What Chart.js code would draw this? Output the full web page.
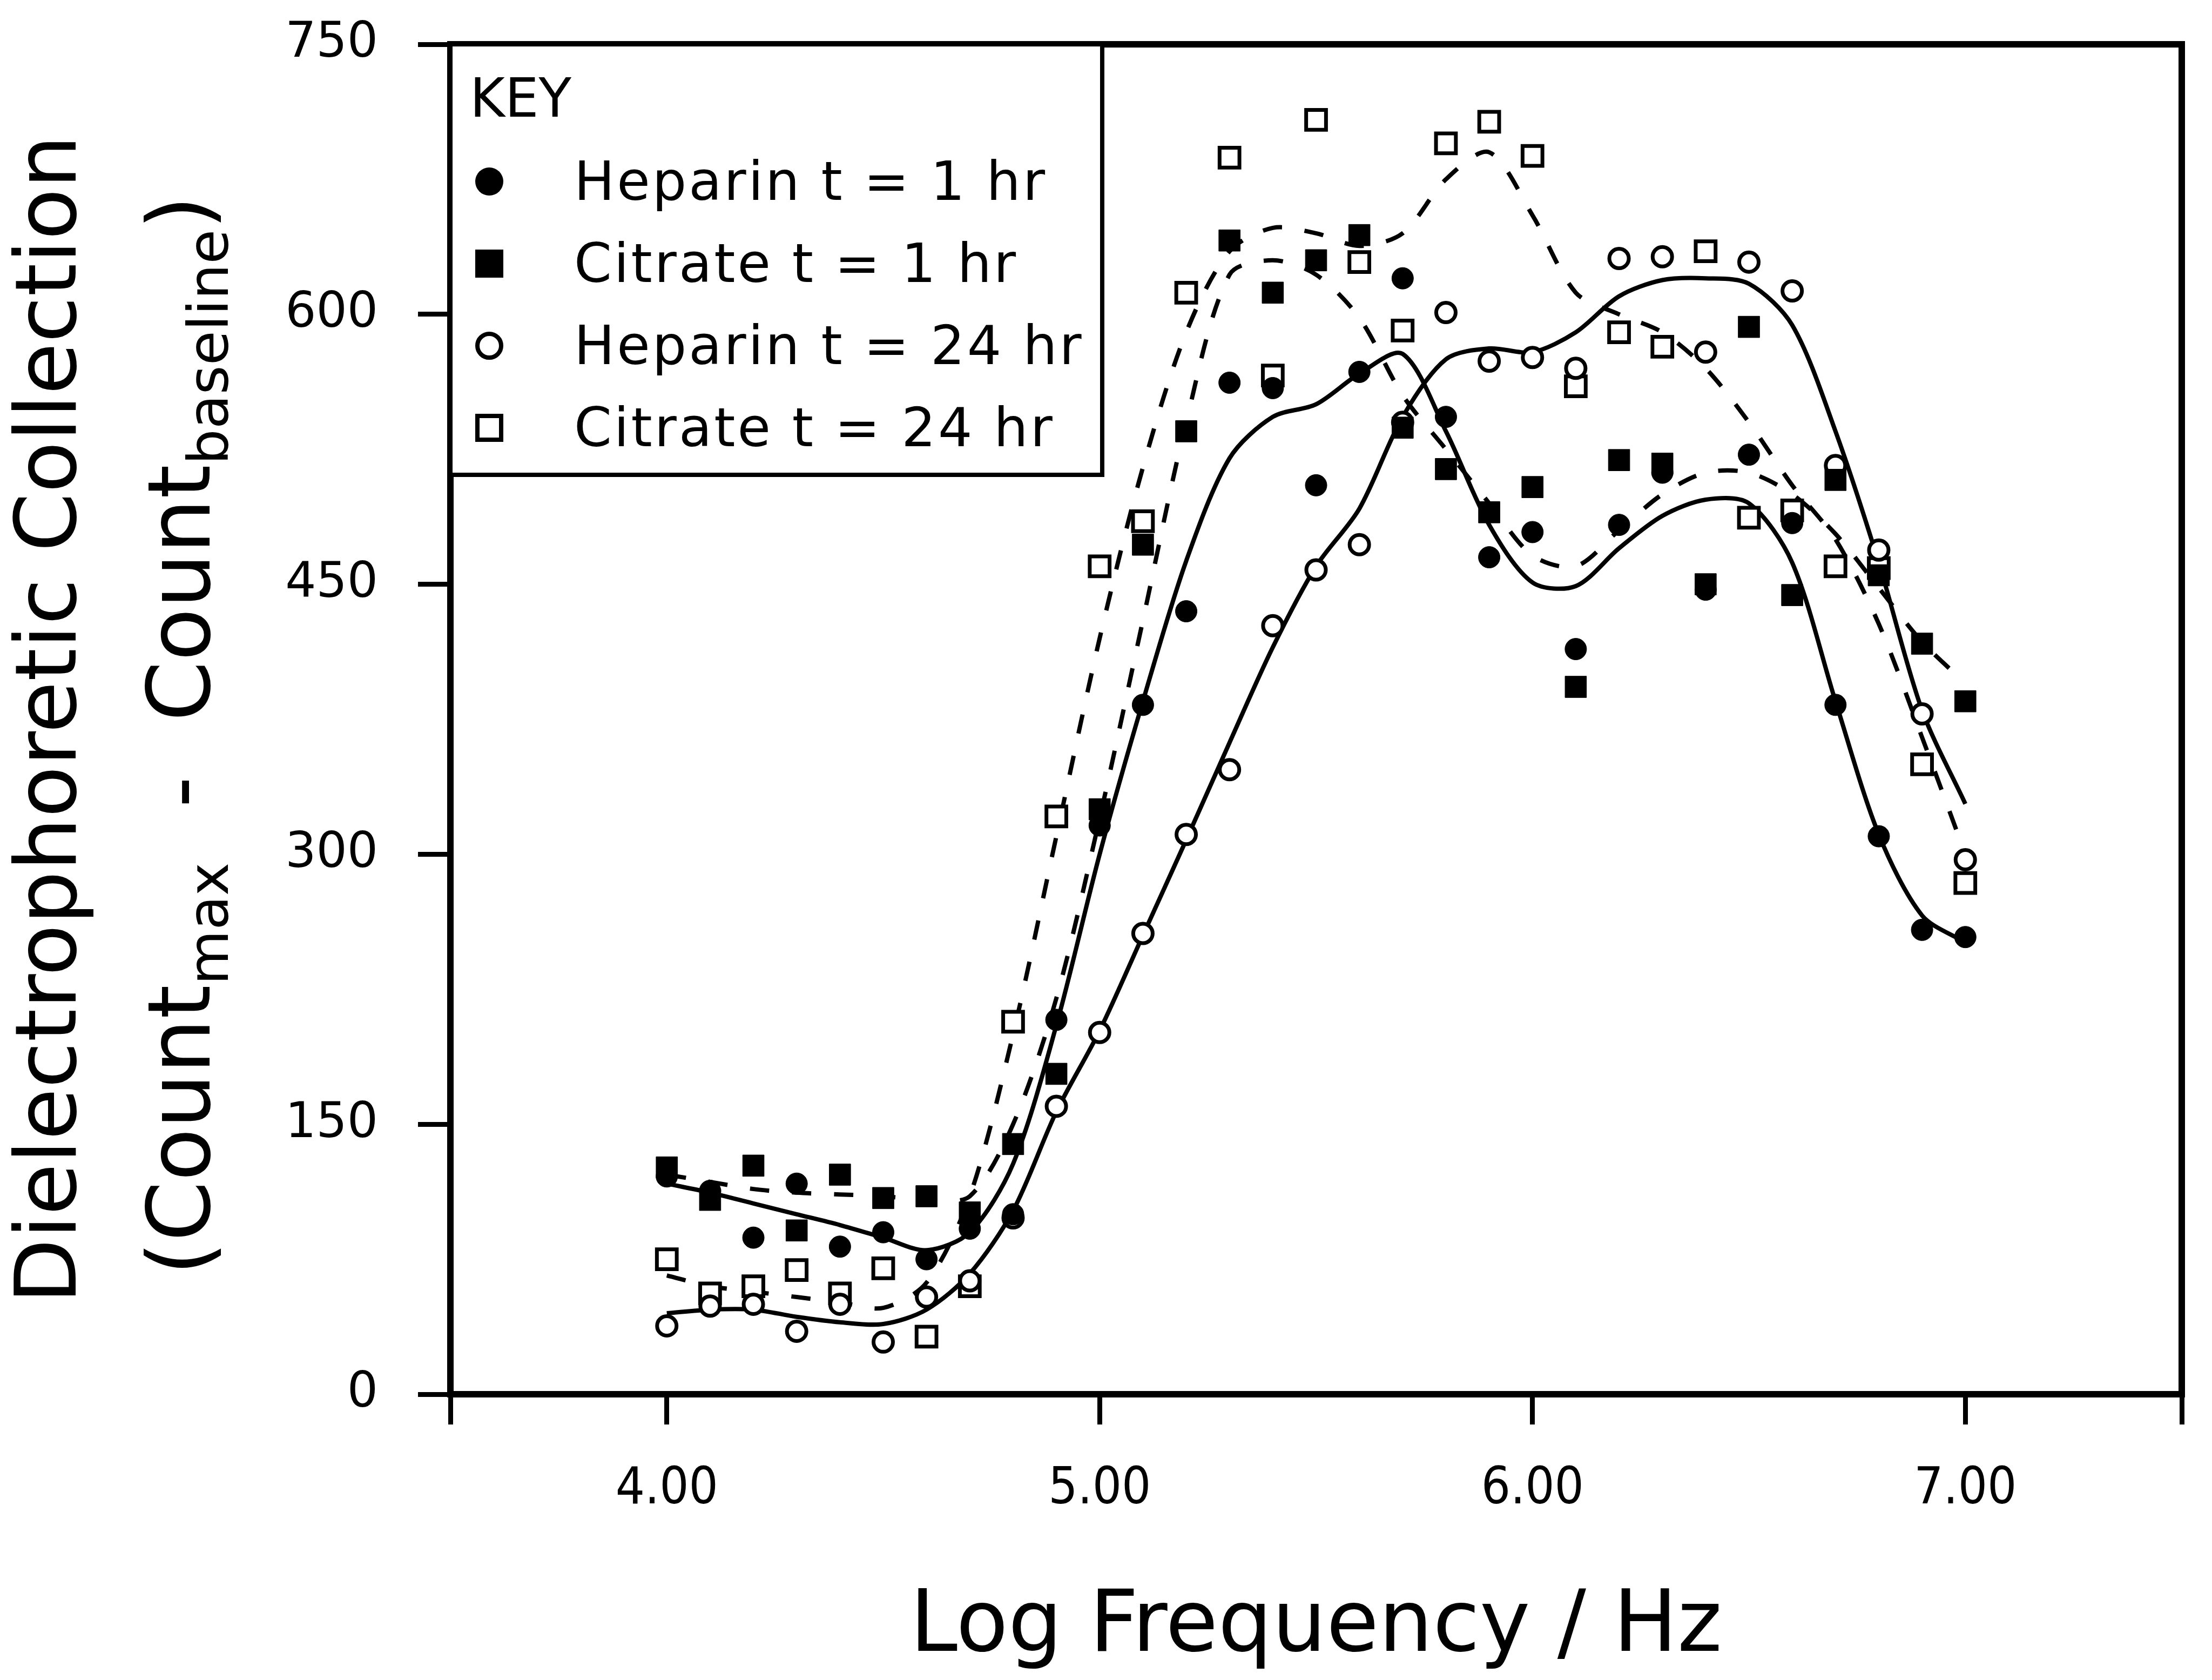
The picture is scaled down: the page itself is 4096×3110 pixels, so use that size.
<!DOCTYPE html>
<html>
<head>
<meta charset="utf-8">
<title>Dielectrophoretic collection</title>
<script src="https://cdn.jsdelivr.net/npm/chart.js@4.4.1/dist/chart.umd.min.js"></script>
<style>
  html, body { margin: 0; padding: 0; background: #fff; }
  #wrap { position: relative; width: 4096px; height: 3110px; overflow: hidden; }
  #chart { display: block; }
  #key {
    position: absolute;
    box-sizing: border-box;
    border: 8px solid #000;
    background: #fff;
    font-family: "DejaVu Sans", sans-serif;
    color: #000;
  }
  #key .key-title { position: absolute; left: 32px; top: 46px; font-size: 99px; line-height: 1; }
  #key-list { list-style: none; margin: 0; padding: 0; }
  #key-list li {
    position: absolute;
    left: 42px;
    display: flex;
    align-items: center;
    font-size: 100px;
    letter-spacing: 4px;
    line-height: 1;
    white-space: pre;
  }
  #key-list .mk { width: 52px; height: 52px; box-sizing: border-box; background: #000; margin-right: 131px; }
  #key-list .mk.circle { border-radius: 50%; }
  #key-list .mk.open { background: #fff; border: 8px solid #000; }
</style>
</head>
<body>
<div id="wrap">
  <canvas id="chart" width="4096" height="3110"></canvas>
  <div id="key"><div class="key-title">KEY</div><ul id="key-list"></ul></div>
</div>
<script>
// log frequency / Hz
const logFreq = [4.0, 4.1, 4.2, 4.3, 4.4, 4.5, 4.6, 4.7, 4.8, 4.9,
                 5.0, 5.1, 5.2, 5.3, 5.4, 5.5, 5.6, 5.7, 5.8, 5.9,
                 6.0, 6.1, 6.2, 6.3, 6.4, 6.5, 6.6, 6.7, 6.8, 6.9, 7.0]

// measured points
const heparin1 = [121, 113, 87, 117, 82, 90, 75, 92, 100, 208,
                  316, 383, 435, 562, 559, 505, 568, 620, 543, 465,
                  479, 414, 483, 512, 447, 522, 484, 383, 310, 258, 254]
const citrate1 = [126, 108, 127, 91, 122, 109, 110, 101, 139, 178,
                  325, 472, 535, 641, 612, 630, 644, 537, 514, 490,
                  504, 393, 519, 517, 450, 593, 444, 508, 455, 417, 385]
const heparin24 = [38, 49, 50, 35, 50, 29, 54, 63, 98, 160,
                   201, 256, 311, 347, 427, 458, 472, 540, 601, 574,
                   576, 570, 631, 632, 579, 629, 613, 516, 469, 378, 297]
const citrate24 = [75, 56, 60, 69, 56, 70, 32, 60, 207, 321,
                   460, 485, 612, 687, 566, 708, 629, 591, 695, 707,
                   688, 560, 590, 582, 635, 487, 491, 460, 459, 350, 284]

// smoothed curves
const heparin1Fit = [117, 112, 106, 100, 94, 87, 80, 90, 128, 205,
                     300, 385, 463, 520, 543, 550, 567, 578, 535, 483,
                     451, 449, 470, 488, 497, 495, 462, 385, 311, 266, 251]
const citrate1Fit = [122, 118, 114, 112, 111, 110, 108, 110, 150, 220,
                     320, 430, 540, 622, 630, 622, 598, 555, 525, 495,
                     466, 460, 480, 500, 512, 512, 500, 478, 448, 418, 395]
const heparin24Fit = [45, 47, 47, 43, 40, 39, 47, 67, 102, 157,
                      202, 255, 308, 362, 415, 460, 492, 543, 575, 581,
                      579, 590, 610, 619, 620, 617, 594, 535, 462, 380, 328]
const citrate24Fit = [66, 60, 57, 54, 51, 48, 62, 110, 200, 310,
                      420, 515, 590, 635, 648, 645, 638, 645, 675, 690,
                      655, 612, 600, 590, 570, 540, 505, 475, 428, 365, 300]

const seriesNames = ['Heparin t = 1 hr', 'Citrate t = 1 hr', 'Heparin t = 24 hr', 'Citrate t = 24 hr']
const xTicks = [3.5, 4, 5, 6, 7, 7.5]
const xLabeled = [4, 5, 6, 7]
const yTicks = [0, 150, 300, 450, 600, 750]

const xTitle = 'Log Frequency / Hz'
const yTitle = 'Dielectrophoretic Collection'
const yTitle2 = [['(Count', 'main'], ['max', 'sub'], ['  -  Count', 'main'], ['baseline', 'sub'], [')', 'main']]

const pts = arr => arr.map((v, i) => ({ x: logFreq[i], y: v }))

const markerStyles = [
    { pointStyle: 'circle', filled: true },
    { pointStyle: 'rect', filled: true },
    { pointStyle: 'circle', filled: false },
    { pointStyle: 'rect', filled: false }
]

function markerSet(label, arr, m) {
    const isRect = m.pointStyle === 'rect'
    return {
        label: label,
        data: pts(arr),
        showLine: false,
        pointStyle: m.pointStyle,
        pointRadius: isRect ? (m.filled ? 28 : 26) : (m.filled ? 20 : 18),
        pointBackgroundColor: m.filled ? '#000' : '#fff',
        pointBorderColor: '#000',
        pointBorderWidth: m.filled ? 1 : 7,
        order: 0
    }
}

function curveSet(arr, dashed) {
    return {
        label: '',
        data: pts(arr),
        showLine: true,
        pointRadius: 0,
        borderColor: '#000',
        borderWidth: 8,
        borderDash: dashed ? [36, 42] : [],
        tension: 0.3,
        fill: false,
        order: 10
    }
}

const frame = {
    id: 'frame',
    beforeDatasetsDraw(chart) {
        const { ctx, chartArea: a } = chart
        ctx.save()
        ctx.strokeStyle = '#000'
        ctx.lineWidth = 12
        ctx.lineCap = 'square'
        ctx.beginPath()
        ctx.moveTo(a.left, a.top)
        ctx.lineTo(a.right, a.top)
        ctx.lineTo(a.right, a.bottom)
        ctx.stroke()
        ctx.restore()
    }
}

// second line of the y title, with subscripts
const subTitle = {
    id: 'subTitle',
    afterDraw(chart) {
        const { ctx, chartArea: a } = chart
        const mainFont = '160px "DejaVu Sans"'
        const subFont = '104px "DejaVu Sans"'
        ctx.save()
        let total = 0
        yTitle2.forEach(([t, k]) => {
            ctx.font = k === 'sub' ? subFont : mainFont
            total += ctx.measureText(t).width
        })
        ctx.translate(388, (a.top + a.bottom) / 2 + 30)
        ctx.rotate(-Math.PI / 2)
        ctx.fillStyle = '#000'
        ctx.textBaseline = 'alphabetic'
        let u = -total / 2
        yTitle2.forEach(([t, k]) => {
            ctx.font = k === 'sub' ? subFont : mainFont
            ctx.fillText(t, u, k === 'sub' ? 34 : 0)
            u += ctx.measureText(t).width
        })
        ctx.restore()
    }
}

const datasets = [
    markerSet(seriesNames[0], heparin1, markerStyles[0]),
    markerSet(seriesNames[1], citrate1, markerStyles[1]),
    markerSet(seriesNames[2], heparin24, markerStyles[2]),
    markerSet(seriesNames[3], citrate24, markerStyles[3]),
    curveSet(heparin1Fit, false),
    curveSet(citrate1Fit, true),
    curveSet(heparin24Fit, false),
    curveSet(citrate24Fit, true)
]

const chart = new Chart(document.getElementById('chart'), {
    type: 'scatter',
    data: { datasets: datasets },
    options: {
        responsive: false,
        animation: false,
        devicePixelRatio: 1,
        layout: { padding: { top: 82, right: 56, left: 0, bottom: 0 } },
        plugins: {
            legend: { display: false },
            tooltip: { enabled: false }
        },
        scales: {
            x: {
                type: 'linear',
                min: 3.5,
                max: 7.5,
                afterBuildTicks: scale => { scale.ticks = xTicks.map(v => ({ value: v })) },
                afterFit: scale => {
                    scale.height = 529
                    scale.paddingLeft = 0
                    scale.paddingRight = 0
                },
                ticks: {
                    color: '#000',
                    padding: 64,
                    autoSkip: false,
                    maxRotation: 0,
                    font: { family: '"Liberation Sans Narrow", "DejaVu Sans Condensed", "DejaVu Sans"', size: 95 },
                    callback: v => xLabeled.includes(v) ? v.toFixed(2) : ''
                },
                grid: { drawOnChartArea: false, drawTicks: true, tickLength: 56, lineWidth: 9, color: '#000' },
                border: { display: true, width: 12, color: '#000' },
                title: {
                    display: true,
                    text: xTitle,
                    color: '#000',
                    padding: { top: 0, bottom: 0 },
                    font: { family: '"DejaVu Sans"', size: 158 }
                }
            },
            y: {
                min: 0,
                max: 750,
                afterBuildTicks: scale => { scale.ticks = yTicks.map(v => ({ value: v })) },
                afterFit: scale => {
                    scale.width = 834
                    scale.paddingTop = 0
                    scale.paddingBottom = 0
                },
                ticks: {
                    color: '#000',
                    padding: 74,
                    font: { family: '"DejaVu Sans"', size: 90 }
                },
                grid: { drawOnChartArea: false, drawTicks: true, tickLength: 60, lineWidth: 9, color: '#000' },
                border: { display: true, width: 12, color: '#000' },
                title: {
                    display: true,
                    text: yTitle,
                    color: '#000',
                    padding: { top: 6, bottom: 0 },
                    font: { family: '"DejaVu Sans"', size: 156 }
                }
            }
        }
    },
    plugins: [frame, subTitle]
})

// key box in the top left corner of the plot
const key = document.getElementById('key')
const area = chart.chartArea
key.style.left = (area.left - 4) + 'px'
key.style.top = (area.top - 4) + 'px'
key.style.width = (2045 - area.left + 4) + 'px'
key.style.height = (883 - area.top + 4) + 'px'

const list = document.getElementById('key-list')
seriesNames.forEach((name, i) => {
    const m = markerStyles[i]
    const li = document.createElement('li')
    li.style.top = (200 + i * 152) + 'px'
    const mk = document.createElement('span')
    mk.classList.value = 'mk' + (m.pointStyle === 'circle' ? ' circle' : '') + (m.filled ? '' : ' open')
    li.appendChild(mk)
    li.appendChild(document.createTextNode(name))
    list.appendChild(li)
})
</script>
</body>
</html>
